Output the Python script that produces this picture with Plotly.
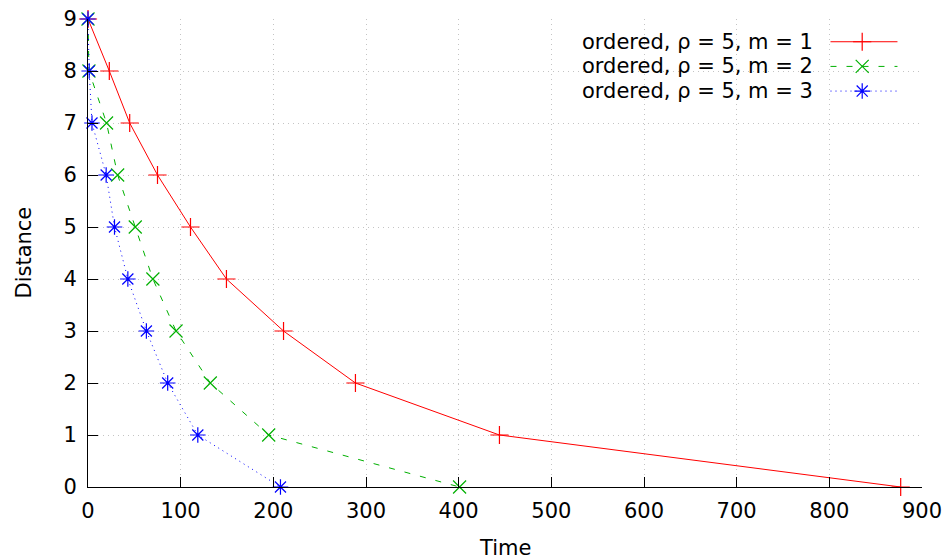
import plotly.graph_objects as go

distance = [9, 8, 7, 6, 5, 4, 3, 2, 1, 0]
time_m1 = [0, 23, 45, 75, 110.6, 149.4, 211, 288.6, 444, 877]
time_m2 = [0, 1, 20, 32, 51, 70, 95, 132, 195, 401]
time_m3 = [0, 1.3, 4.3, 19.6, 28.6, 43, 63, 86, 118.5, 207.7]

labels = ["ordered, ρ = 5, m = 1", "ordered, ρ = 5, m = 2", "ordered, ρ = 5, m = 3"]
colors = ["#ff0000", "#00b000", "#0000ff"]
dashes = ["solid", "6px,10px", "1px,4px"]
symbols = ["cross-thin-open", "x-thin-open", "asterisk-open"]
series = [time_m1, time_m2, time_m3]

FONT = "DejaVu Sans"
FS = 21
fig = go.Figure()
for t, lab, c, d, s in zip(series, labels, colors, dashes, symbols):
    fig.add_trace(go.Scatter(x=t, y=distance, mode="lines+markers", name=lab,
                             line=dict(color=c, width=1, dash=d),
                             marker=dict(symbol=s, size=13, color=c, line=dict(color=c, width=1.2)),
                             showlegend=False, cliponaxis=False))

# manual gnuplot-style legend (text left, sample right)
leg_y = [0.9514, 0.8987, 0.846]
for lab, c, d, s, yy in zip(labels, colors, dashes, symbols, leg_y):
    fig.add_annotation(x=0.8723, y=yy, xref="paper", yref="paper", text=lab,
                       showarrow=False, xanchor="right", yanchor="middle",
                       font=dict(family=FONT, size=FS, color="black"))
    fig.add_trace(go.Scatter(x=[0.8903, 0.9706], y=[yy, yy], xaxis="x2", yaxis="y2",
                             mode="lines", line=dict(color=c, width=1, dash=d),
                             showlegend=False, hoverinfo="skip"))
    fig.add_trace(go.Scatter(x=[0.9283], y=[yy], xaxis="x2", yaxis="y2",
                             mode="markers",
                             marker=dict(symbol=s, size=13, color=c, line=dict(color=c, width=1.2)),
                             showlegend=False, hoverinfo="skip"))

fig.add_annotation(x=0.5, y=-0.131, xref="paper", yref="paper", text="Time",
                   showarrow=False, xanchor="center", yanchor="middle",
                   font=dict(family=FONT, size=FS, color="black"))
fig.add_annotation(x=-0.0773, y=0.5, xref="paper", yref="paper", text="Distance",
                   showarrow=False, xanchor="center", yanchor="middle", textangle=-90,
                   font=dict(family=FONT, size=FS, color="black"))

grid = dict(showgrid=True, gridcolor="#c4c4c4", griddash="1px,4px", gridwidth=1,
            showline=True, linecolor="black", linewidth=1,
            ticks="inside", ticklen=10, tickcolor="black", zeroline=False,
            automargin=False)
fig.update_layout(
    width=946, height=560,
    margin=dict(l=87.5, r=24.3, t=18.5, b=72.5),
    paper_bgcolor="white", plot_bgcolor="white",
    font=dict(family=FONT, size=FS, color="black"),
    xaxis=dict(range=[0, 900], tickvals=list(range(0, 1000, 100)), ticklabelstandoff=5, **grid),
    yaxis=dict(range=[0, 9], tickvals=list(range(0, 10)), ticklabelstandoff=6, **grid),
    xaxis2=dict(range=[0, 1], overlaying="x", visible=False, fixedrange=True),
    yaxis2=dict(range=[0, 1], overlaying="y", visible=False, fixedrange=True),
)
fig.write_html("out.html")
